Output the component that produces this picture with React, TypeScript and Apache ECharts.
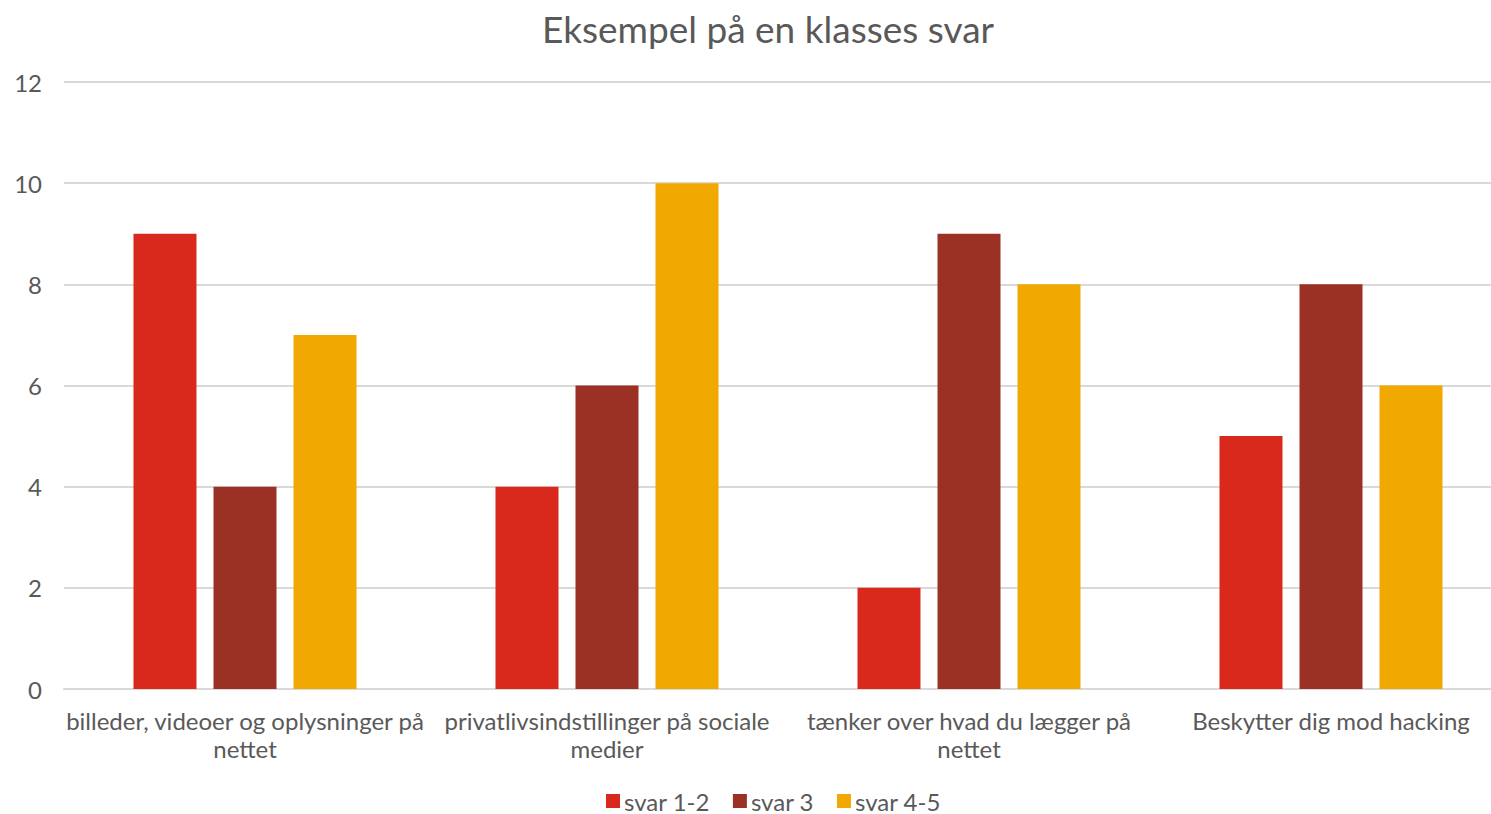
import React, { useEffect, useRef } from "react";
import * as echarts from "echarts";

const categories = [
  "billeder, videoer og oplysninger på\nnettet",
  "privatlivsindstillinger på sociale\nmedier",
  "tænker over hvad du lægger på\nnettet",
  "Beskytter dig mod hacking",
];
const seriesNames = ["svar 1-2", "svar 3", "svar 4-5"];
const svar12 = [9, 4, 2, 5];
const svar3 = [4, 6, 9, 8];
const svar45 = [7, 10, 8, 6];
const colors = ["#D9291C", "#9B3024", "#F1A800"];

export default function App() {
  const ref = useRef<HTMLDivElement>(null);
  useEffect(() => {
    const chart = echarts.init(ref.current!, null, { renderer: "svg" });
    const font = "Lato, 'Open Sans', sans-serif";
    const data = [svar12, svar3, svar45];
    chart.setOption({
      animation: false,
      backgroundColor: "#ffffff",
      textStyle: { fontFamily: font },
      title: {
        text: "Eksempel på en klasses svar",
        left: 537,
        top: 5,
        textStyle: { fontFamily: font, fontSize: 37, fontWeight: "normal", color: "#595959" },
      },
      legend: {
        bottom: -4,
        left: 601,
        itemWidth: 14,
        itemHeight: 14,
        itemGap: 23,
        icon: "rect",
        textStyle: { fontFamily: font, fontSize: 24, color: "#595959", padding: [0, 0, 0, -1] },
        data: seriesNames,
      },
      grid: { left: 64, right: 0, top: 82, bottom: 125, containLabel: false },
      xAxis: {
        type: "category",
        data: categories,
        axisLine: { lineStyle: { color: "#d9d9d9", width: 2 } },
        axisTick: { show: false },
        axisLabel: {
          fontFamily: font,
          fontSize: 24,
          color: "#595959",
          lineHeight: 28,
          margin: 17,
          interval: 0,
        },
      },
      yAxis: {
        type: "value",
        min: 0,
        max: 12,
        interval: 2,
        axisLine: { show: false },
        axisTick: { show: false },
        splitLine: { lineStyle: { color: "#d9d9d9", width: 2 } },
        axisLabel: { fontFamily: font, fontSize: 24, color: "#595959", margin: 22 },
      },
      series: seriesNames.map((name, i) => ({
        name,
        type: "bar",
        data: data[i],
        barWidth: 63,
        barGap: "27%",
        itemStyle: { color: colors[i] },
      })),
    });
    return () => chart.dispose();
  }, []);
  return (
    <div
      style={{
        position: "fixed",
        left: 0,
        top: 0,
        width: 1491,
        height: 814,
        overflow: "hidden",
        background: "#ffffff",
      }}
    >
      <div ref={ref} style={{ width: 1512, height: 814 }} />
    </div>
  );
}
